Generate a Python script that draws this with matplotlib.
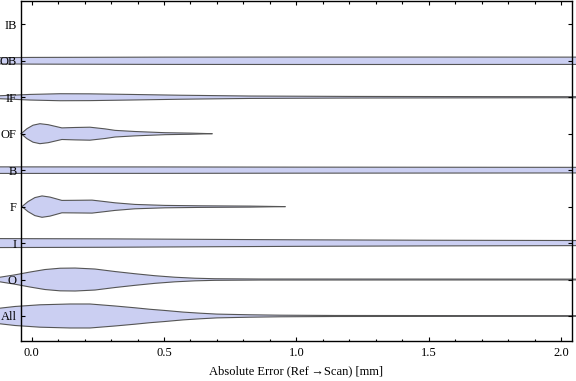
import numpy as np
import matplotlib
matplotlib.use("Agg")
import matplotlib.pyplot as plt

plt.rcParams['font.family'] = ['Liberation Serif', 'DejaVu Serif']

categories = ['All', 'O', 'I', 'F', 'B', 'OF', 'IF', 'OB', 'IB']

# violin outlines: x = absolute error [mm], h = half width (density scaled)
all_x = [-0.120, -0.063, 0.031, 0.145, 0.220, 0.315, 0.390, 0.447, 0.504, 0.572, 0.636, 0.700, 0.825, 0.938, 1.146, 2.057]
all_h = [0.214, 0.261, 0.307, 0.329, 0.329, 0.274, 0.225, 0.184, 0.151, 0.107, 0.077, 0.052, 0.033, 0.022, 0.014, 0.008]

o_x = [-0.120, -0.063, -0.006, 0.050, 0.107, 0.164, 0.239, 0.315, 0.390, 0.466, 0.541, 0.617, 0.692, 0.863, 2.057]
o_h = [0.063, 0.129, 0.206, 0.274, 0.310, 0.315, 0.288, 0.219, 0.159, 0.104, 0.063, 0.036, 0.022, 0.014, 0.011]

i_x = [-0.120, 0.300, 0.700, 1.000, 1.500, 2.057]
i_h = [0.123, 0.115, 0.100, 0.090, 0.078, 0.070]

f_x = [-0.037, -0.014, 0.012, 0.039, 0.069, 0.114, 0.164, 0.228, 0.277, 0.315, 0.390, 0.504, 0.636, 0.825, 0.957]
f_h = [0.0, 0.137, 0.247, 0.293, 0.261, 0.170, 0.173, 0.178, 0.137, 0.104, 0.060, 0.033, 0.022, 0.014, 0.0]

b_x = [-0.120, 0.500, 1.000, 1.500, 2.057]
b_h = [0.090, 0.088, 0.083, 0.080, 0.077]

of_x = [-0.040, -0.018, 0.005, 0.031, 0.062, 0.114, 0.164, 0.220, 0.277, 0.315, 0.390, 0.504, 0.598, 0.681]
of_h = [0.0, 0.137, 0.233, 0.274, 0.247, 0.159, 0.170, 0.178, 0.132, 0.091, 0.060, 0.027, 0.016, 0.0]

if_x = [-0.120, -0.006, 0.107, 0.220, 0.371, 0.560, 0.825, 1.203, 1.770, 2.057]
if_h = [0.041, 0.077, 0.096, 0.093, 0.077, 0.055, 0.033, 0.022, 0.016, 0.014]

ob_x = [-0.120, 0.000, 0.500, 1.000, 1.500, 2.057]
ob_h = [0.085, 0.092, 0.100, 0.102, 0.102, 0.100]

profiles = {
    'All': (all_x, all_h), 'O': (o_x, o_h), 'I': (i_x, i_h), 'F': (f_x, f_h),
    'B': (b_x, b_h), 'OF': (of_x, of_h), 'IF': (if_x, if_h), 'OB': (ob_x, ob_h),
}

x_major = [0.0, 0.5, 1.0, 1.5, 2.0]
x_major_labels = ['0.0', '0.5', '1.0', '1.5', '2.0']
x_label = 'Absolute Error (Ref\u2009\u2192Scan) [mm]'

fig = plt.figure(figsize=(5.76, 3.81), dpi=100)
ax = fig.add_axes([20.7 / 576, 1 - 341 / 381, (571.7 - 20.7) / 576, (341 - 0.5) / 381])

fill_c = '#cbcff2'
edge_c = '#555555'
for pos, cat in enumerate(categories, start=1):
    if cat not in profiles:
        continue
    xs, hs = profiles[cat]
    xs = np.asarray(xs)
    hs = np.asarray(hs)
    px = np.concatenate([xs, xs[::-1]])
    py = np.concatenate([pos + hs, (pos - hs)[::-1]])
    ax.fill(px, py, facecolor=fill_c, edgecolor='none', clip_on=False, zorder=1)
    ax.plot(xs, pos + hs, color=edge_c, lw=0.8, clip_on=False, zorder=1.5)
    ax.plot(xs, pos - hs, color=edge_c, lw=0.8, clip_on=False, zorder=1.5)

ax.set_xlim(-0.0416, 2.0404)
ax.set_ylim(0.314, 9.653)
ax.set_xticks(x_major)
ax.set_xticklabels(x_major_labels)
ax.set_xticks([v / 10 for v in range(0, 21) if v % 5 != 0], minor=True)
ax.set_yticks(range(1, len(categories) + 1))
ax.set_yticklabels(categories)
ax.tick_params(axis='both', which='both', direction='in', top=True, right=True,
               labelsize=9, width=0.8, color='black')
ax.tick_params(axis='x', which='major', length=3.2, pad=4)
ax.tick_params(axis='x', which='minor', length=1.8)
ax.tick_params(axis='y', which='major', length=3.2, pad=3)
for s in ax.spines.values():
    s.set_linewidth(1.0)
    s.set_zorder(3)
ax.set_xlabel(x_label, fontsize=9, labelpad=5)

fig.savefig('out.png', dpi=100)
